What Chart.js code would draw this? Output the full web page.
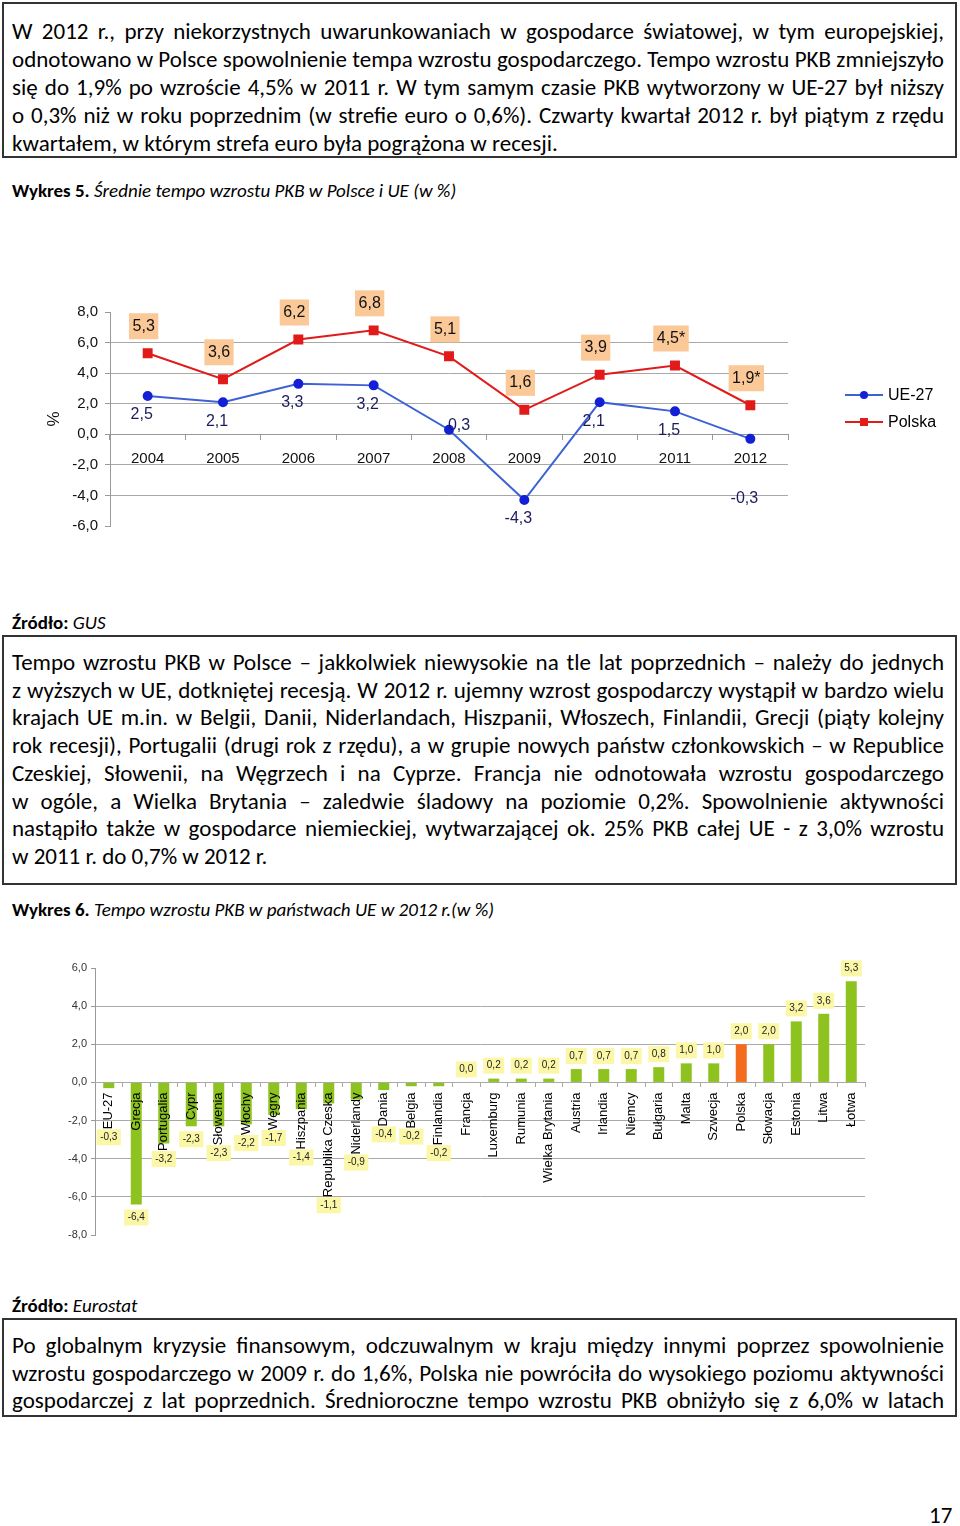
<!DOCTYPE html>
<html>
<head>
<meta charset="utf-8">
<script src="https://cdn.jsdelivr.net/npm/chart.js@4/dist/chart.umd.min.js"></script>
<style>
  html, body { margin: 0; padding: 0; background: #fff; }
  body { position: relative; width: 960px; height: 1526px; overflow: hidden;
         font-family: Carlito, "Liberation Sans Narrow", "Open Sans", sans-serif; color: #000; }
  .box { position: absolute; left: 2px; width: 955px; box-sizing: border-box;
         border: 2px solid #333; padding: 0 11px 0 8px; }
  .ln { font-size: 23px; text-align: justify; text-align-last: justify; overflow: hidden; }
  .ln.last { text-align-last: left; }
  .cap { position: absolute; left: 12px; font-size: 19px; line-height: 22px; white-space: nowrap; }
  .cap b { font-weight: bold; }
  canvas { position: absolute; left: 0; }
</style>
</head>
<body>

<div class="box" style="top:2px;height:156px;padding-top:13px;line-height:28px">
  <div class="ln">W 2012 r., przy niekorzystnych uwarunkowaniach w gospodarce światowej, w tym europejskiej,</div>
  <div class="ln">odnotowano w Polsce spowolnienie tempa wzrostu gospodarczego. Tempo wzrostu PKB zmniejszyło</div>
  <div class="ln">się do 1,9% po wzroście 4,5% w 2011 r. W tym samym czasie PKB wytworzony w UE-27 był niższy</div>
  <div class="ln">o 0,3% niż w roku poprzednim (w strefie euro o 0,6%). Czwarty kwartał 2012 r. był piątym z rzędu</div>
  <div class="ln last">kwartałem, w którym strefa euro była pogrążona w recesji.</div>
</div>

<div class="cap" style="top:180px"><b>Wykres 5.</b> <i>Średnie tempo wzrostu PKB w Polsce i UE (w %)</i></div>

<canvas id="chart1" width="960" height="260" style="top:290px"></canvas>

<div class="cap" style="top:612px"><b>Źródło:</b> <i>GUS</i></div>

<div class="box" style="top:635px;height:250px;padding-top:12px;line-height:27.7px">
  <div class="ln">Tempo wzrostu PKB w Polsce – jakkolwiek niewysokie na tle lat poprzednich – należy do jednych</div>
  <div class="ln">z wyższych w UE, dotkniętej recesją. W 2012 r. ujemny wzrost gospodarczy wystąpił w bardzo wielu</div>
  <div class="ln">krajach UE m.in. w Belgii, Danii, Niderlandach, Hiszpanii, Włoszech, Finlandii, Grecji (piąty kolejny</div>
  <div class="ln">rok recesji), Portugalii (drugi rok z rzędu), a w grupie nowych państw członkowskich – w Republice</div>
  <div class="ln">Czeskiej, Słowenii, na Węgrzech i na Cyprze. Francja nie odnotowała wzrostu gospodarczego</div>
  <div class="ln">w ogóle, a Wielka Brytania – zaledwie śladowy na poziomie 0,2%. Spowolnienie aktywności</div>
  <div class="ln">nastąpiło także w gospodarce niemieckiej, wytwarzającej ok. 25% PKB całej UE - z 3,0% wzrostu</div>
  <div class="ln last">w 2011 r. do 0,7% w 2012 r.</div>
</div>

<div class="cap" style="top:899px"><b>Wykres 6.</b> <i>Tempo wzrostu PKB w państwach UE w 2012 r.(w %)</i></div>

<canvas id="chart2" width="960" height="300" style="top:950px"></canvas>

<div class="cap" style="top:1295px"><b>Źródło:</b> <i>Eurostat</i></div>

<div class="box" style="top:1318px;height:99px;padding-top:12px;line-height:27.5px">
  <div class="ln">Po globalnym kryzysie finansowym, odczuwalnym w kraju między innymi poprzez spowolnienie</div>
  <div class="ln">wzrostu gospodarczego w 2009 r. do 1,6%, Polska nie powróciła do wysokiego poziomu aktywności</div>
  <div class="ln">gospodarczej z lat poprzednich. Średnioroczne tempo wzrostu PKB obniżyło się z 6,0% w latach</div>
</div>

<div style="position:absolute;left:929px;top:1502px;font-size:23px;line-height:26px">17</div>

<script>
// shrink any line that doesn't fit, then let it justify
document.querySelectorAll('.ln').forEach(function (el) {
  var fs = 23;
  el.style.whiteSpace = 'nowrap';
  while (el.scrollWidth > el.clientWidth && fs > 12) {
    fs -= 0.25;
    el.style.fontSize = fs + 'px';
  }
  el.style.whiteSpace = '';
});

// ---- data: Wykres 5 ----
const years = ['2004', '2005', '2006', '2007', '2008', '2009', '2010', '2011', '2012'];
const ueValues = [2.5, 2.1, 3.3, 3.2, 0.3, -4.3, 2.1, 1.5, -0.3];
const plValues = [5.3, 3.6, 6.2, 6.8, 5.1, 1.6, 3.9, 4.5, 1.9];
const plNotes = ['', '', '', '', '', '', '', '*', '*'];   // preliminary estimates
const yTicks1 = [-6, 8, 2];   // min, max, step

// ---- data: Wykres 6 ----
const countries = ['EU-27', 'Grecja', 'Portugalia', 'Cypr', 'Słowenia', 'Włochy', 'Węgry', 'Hiszpania',
  'Republika Czeska', 'Niderlandy', 'Dania', 'Belgia', 'Finlandia', 'Francja', 'Luxemburg', 'Rumunia',
  'Wielka Brytania', 'Austria', 'Irlandia', 'Niemcy', 'Bułgaria', 'Malta', 'Szwecja', 'Polska',
  'Słowacja', 'Estonia', 'Litwa', 'Łotwa'];
const growth2012 = [-0.3, -6.4, -3.2, -2.3, -2.3, -2.2, -1.7, -1.4, -1.1, -0.9, -0.4, -0.2, -0.2, 0.0,
  0.2, 0.2, 0.2, 0.7, 0.7, 0.7, 0.8, 1.0, 1.0, 2.0, 2.0, 3.2, 3.6, 5.3];
const yTicks2 = [-8, 6, 2];

const ARIAL = '"Liberation Sans", Arial, sans-serif';
const fmt = v => v.toFixed(1).replace('.', ',');

// ---------- chart 1 ----------
const ueColor = '#3d62d6', uePoint = '#1420d6';
const plColor = '#e11a1a';

const labels1 = {
  id: 'labels1',
  afterDraw(chart) {
    const ctx = chart.ctx;
    const zeroY = chart.scales.y.getPixelForValue(0);
    ctx.save();
    ctx.font = '16px ' + ARIAL;
    ctx.textAlign = 'center';
    ctx.textBaseline = 'middle';
    // Polska: peach boxes above points
    chart.getDatasetMeta(1).data.forEach((pt, i) => {
      const txt = fmt(plValues[i]) + plNotes[i];
      const w = ctx.measureText(txt).width + 7;
      const cx = pt.x - 4, cy = pt.y - 27;
      ctx.fillStyle = '#fbc897';
      ctx.fillRect(cx - w / 2, cy - 13, w, 26);
      ctx.fillStyle = '#111';
      ctx.fillText(txt, cx, cy);
    });
    // UE-27: navy text below points
    ctx.fillStyle = '#1c1c5e';
    chart.getDatasetMeta(0).data.forEach((pt, i) => {
      let cx = pt.x - 6, cy = pt.y + 19;
      if (cy > zeroY + 10 && cy < zeroY + 38) {
        if (ueValues[i] >= 0) { cx = pt.x + 10; cy = pt.y - 4; }
        else { cy = zeroY + 64; }
      }
      ctx.fillText(fmt(ueValues[i]), cx, cy);
    });
    // legend
    const items = [['UE-27', ueColor, uePoint, 'circle'], ['Polska', plColor, plColor, 'rect']];
    ctx.textAlign = 'left';
    items.forEach((it, k) => {
      const y = 105 + k * 27;
      ctx.strokeStyle = it[1];
      ctx.lineWidth = 2;
      ctx.beginPath(); ctx.moveTo(845, y); ctx.lineTo(883, y); ctx.stroke();
      ctx.fillStyle = it[2];
      if (it[3] === 'circle') { ctx.beginPath(); ctx.arc(864, y, 4, 0, Math.PI * 2); ctx.fill(); }
      else ctx.fillRect(860, y - 4, 8, 8);
      ctx.fillStyle = '#000';
      ctx.fillText(it[0], 888, y + 1);
    });
    ctx.restore();
  }
};

new Chart(document.getElementById('chart1'), {
  type: 'line',
  data: {
    labels: years,
    datasets: [
      { label: 'UE-27', data: ueValues, borderColor: ueColor, borderWidth: 2, tension: 0,
        pointStyle: 'circle', pointRadius: 4, pointBackgroundColor: uePoint, pointBorderColor: uePoint },
      { label: 'Polska', data: plValues, borderColor: plColor, borderWidth: 2, tension: 0,
        pointStyle: 'rect', pointRadius: 5.6, pointBackgroundColor: plColor, pointBorderColor: plColor }
    ]
  },
  options: {
    responsive: false,
    animation: false,
    devicePixelRatio: 1,
    layout: { padding: { top: 22, bottom: 24, left: 40, right: 172 } },
    plugins: { legend: { display: false }, tooltip: { enabled: false } },
    scales: {
      x: {
        position: { y: 0 },
        offset: true,
        grid: { drawOnChartArea: false, tickLength: 5, color: '#999', offset: true },
        border: { color: '#999' },
        ticks: { font: { size: 15, family: ARIAL }, color: '#111', padding: 11, maxRotation: 0 }
      },
      y: {
        min: yTicks1[0], max: yTicks1[1],
        afterFit: s => { s.width = 70; },
        grid: {
          color: c => (c.tick && (c.tick.value === yTicks1[0] || c.tick.value === yTicks1[1])) ? 'rgba(0,0,0,0)' : '#a8a8a8',
          tickColor: '#999', tickLength: 5
        },
        border: { color: '#999' },
        title: { display: true, text: '%', font: { size: 17, family: ARIAL }, color: '#111' },
        ticks: { stepSize: yTicks1[2], callback: v => fmt(v), font: { size: 15, family: ARIAL }, color: '#111', padding: 7 }
      }
    }
  },
  plugins: [labels1]
});

// ---------- chart 2 ----------
const labels2 = {
  id: 'labels2',
  afterDraw(chart) {
    const ctx = chart.ctx;
    const zeroY = chart.scales.y.getPixelForValue(0);
    ctx.save();
    ctx.font = '13px ' + ARIAL;
    const nameW = countries.map(n => ctx.measureText(n).width);
    ctx.font = '10px ' + ARIAL;
    ctx.textAlign = 'center';
    ctx.textBaseline = 'middle';
    chart.getDatasetMeta(0).data.forEach((bar, i) => {
      const v = growth2012[i];
      const txt = fmt(v);
      let cy;
      if (v >= 0) cy = bar.y - 13;
      else cy = Math.max(bar.y + 13, zeroY + 10 + nameW[i] + 8);
      const w = ctx.measureText(txt).width + 7;
      ctx.fillStyle = '#fbf7a6';
      ctx.fillRect(bar.x - w / 2, cy - 8, w, 16);
      ctx.fillStyle = '#222';
      ctx.fillText(txt, bar.x, cy);
    });
    ctx.restore();
  }
};

new Chart(document.getElementById('chart2'), {
  type: 'bar',
  data: {
    labels: countries,
    datasets: [{
      data: growth2012,
      backgroundColor: countries.map(c => c === 'Polska' ? '#f36b1c' : '#8dc21f'),
      barPercentage: 0.4,
      categoryPercentage: 1.0
    }]
  },
  options: {
    responsive: false,
    animation: false,
    devicePixelRatio: 1,
    layout: { padding: { top: 18, bottom: 15, left: 0, right: 95 } },
    plugins: { legend: { display: false }, tooltip: { enabled: false } },
    scales: {
      x: {
        position: { y: 0 },
        offset: true,
        grid: { drawOnChartArea: false, tickLength: 4, color: '#aaa', offset: true },
        border: { color: '#aaa', z: 1 },
        ticks: { z: 1, autoSkip: false, minRotation: 90, maxRotation: 90, font: { size: 13, family: ARIAL }, color: '#000', padding: 6 }
      },
      y: {
        min: yTicks2[0], max: yTicks2[1],
        afterFit: s => { s.width = 95; },
        grid: {
          color: c => (c.tick && (c.tick.value === yTicks2[0] || c.tick.value === yTicks2[1])) ? 'rgba(0,0,0,0)' : '#aaa',
          tickColor: '#999', tickLength: 4
        },
        border: { color: '#999' },
        ticks: { stepSize: yTicks2[2], callback: v => fmt(v), font: { size: 11, family: ARIAL }, color: '#333', padding: 4 }
      }
    }
  },
  plugins: [labels2]
});
</script>
</body>
</html>
